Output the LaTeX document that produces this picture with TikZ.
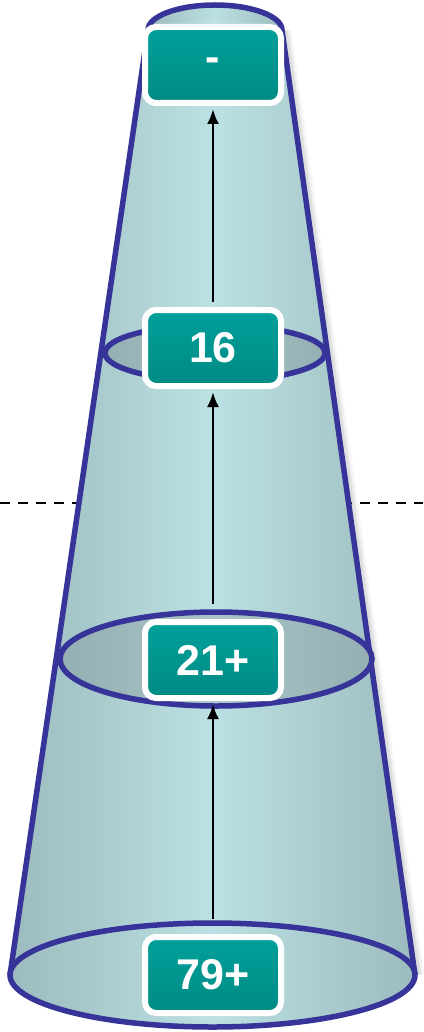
\documentclass[tikz,border=0pt]{standalone}
\usepackage{fontspec}
\setmainfont{Liberation Sans}
\usetikzlibrary{arrows.meta,shadows}
\definecolor{rim}{HTML}{363399}
\definecolor{conedark}{HTML}{9CBBBE}
\definecolor{conelight}{HTML}{BCE0E3}
\definecolor{ringdark}{HTML}{93AFB2}
\definecolor{ringlight}{HTML}{A9C5C7}
\definecolor{tealtop}{HTML}{00A09A}
\definecolor{tealbot}{HTML}{008A84}
\begin{document}
\begin{tikzpicture}[x=1pt,y=-1pt,
  rimline/.style={draw=rim,line width=5.5pt},
  conefill/.style={left color=conedark,right color=conedark,middle color=conelight},
  ringfill/.style={left color=ringdark,right color=ringdark,middle color=ringlight},
  box/.style={rounded corners=11pt,minimum width=136pt,minimum height=76pt,inner sep=0pt,
    draw=white,line width=6pt,top color=tealtop,bottom color=tealbot,text=white,
    font=\fontsize{43}{43}\selectfont\bfseries,
    drop shadow={opacity=0.25,shadow xshift=1.5pt,shadow yshift=-2pt}},
  arr/.style={line width=2.5pt,-{Latex[length=15pt,width=12pt]}}]
\useasboundingbox (0,0) rectangle (423,1032);
% dashed level line
\draw[line width=2pt,dash pattern=on 10pt off 8pt] (0,503) -- (423,503);
% shadow of the cone
\foreach \o/\op in {11/0.05,8/0.06,5/0.08,3/0.1}{
  \draw[line width=\o pt,gray,opacity=\op] (286,30) -- (419,975);
}
% cone body
\shade[conefill] (148,30) -- (10,975) arc[start angle=180,end angle=0,x radius=202.5,y radius=52]
  -- (282,30) arc[start angle=0,end angle=-180,x radius=67,y radius=25] -- cycle;
% top ellipse
\shade[conefill] (215,30) ellipse[x radius=67,y radius=25];
\draw[rimline] (215,30) ellipse[x radius=67,y radius=25];
% sides
\draw[rimline] (148,30) -- (10,975);
\draw[rimline] (282,30) -- (415,975);
% rings
\shade[ringfill] (215,353) ellipse[x radius=110,y radius=28];
\draw[rimline] (215,353) ellipse[x radius=110,y radius=28];
\shade[ringfill] (216,659) ellipse[x radius=156,y radius=47];
\draw[rimline] (216,659) ellipse[x radius=156,y radius=47];
% bottom ellipse
\shade[conefill] (212.5,975) ellipse[x radius=202.5,y radius=52];
\draw[rimline] (212.5,975) ellipse[x radius=202.5,y radius=52];
% boxes
\node[box] (n0) at (213,65) {-};
\node[box] (n1) at (213,348) {16};
\node[box] (n2) at (213,660) {21+};
\node[box] (n3) at (213,975) {79+};
% arrows
\draw[arr] ([yshift=15pt]n3.north) -- ([yshift=-3pt]n2.south);
\draw[arr] ([yshift=15pt]n2.north) -- ([yshift=-3pt]n1.south);
\draw[arr] ([yshift=5pt]n1.north) -- ([yshift=-3pt]n0.south);
\end{tikzpicture}
\end{document}
